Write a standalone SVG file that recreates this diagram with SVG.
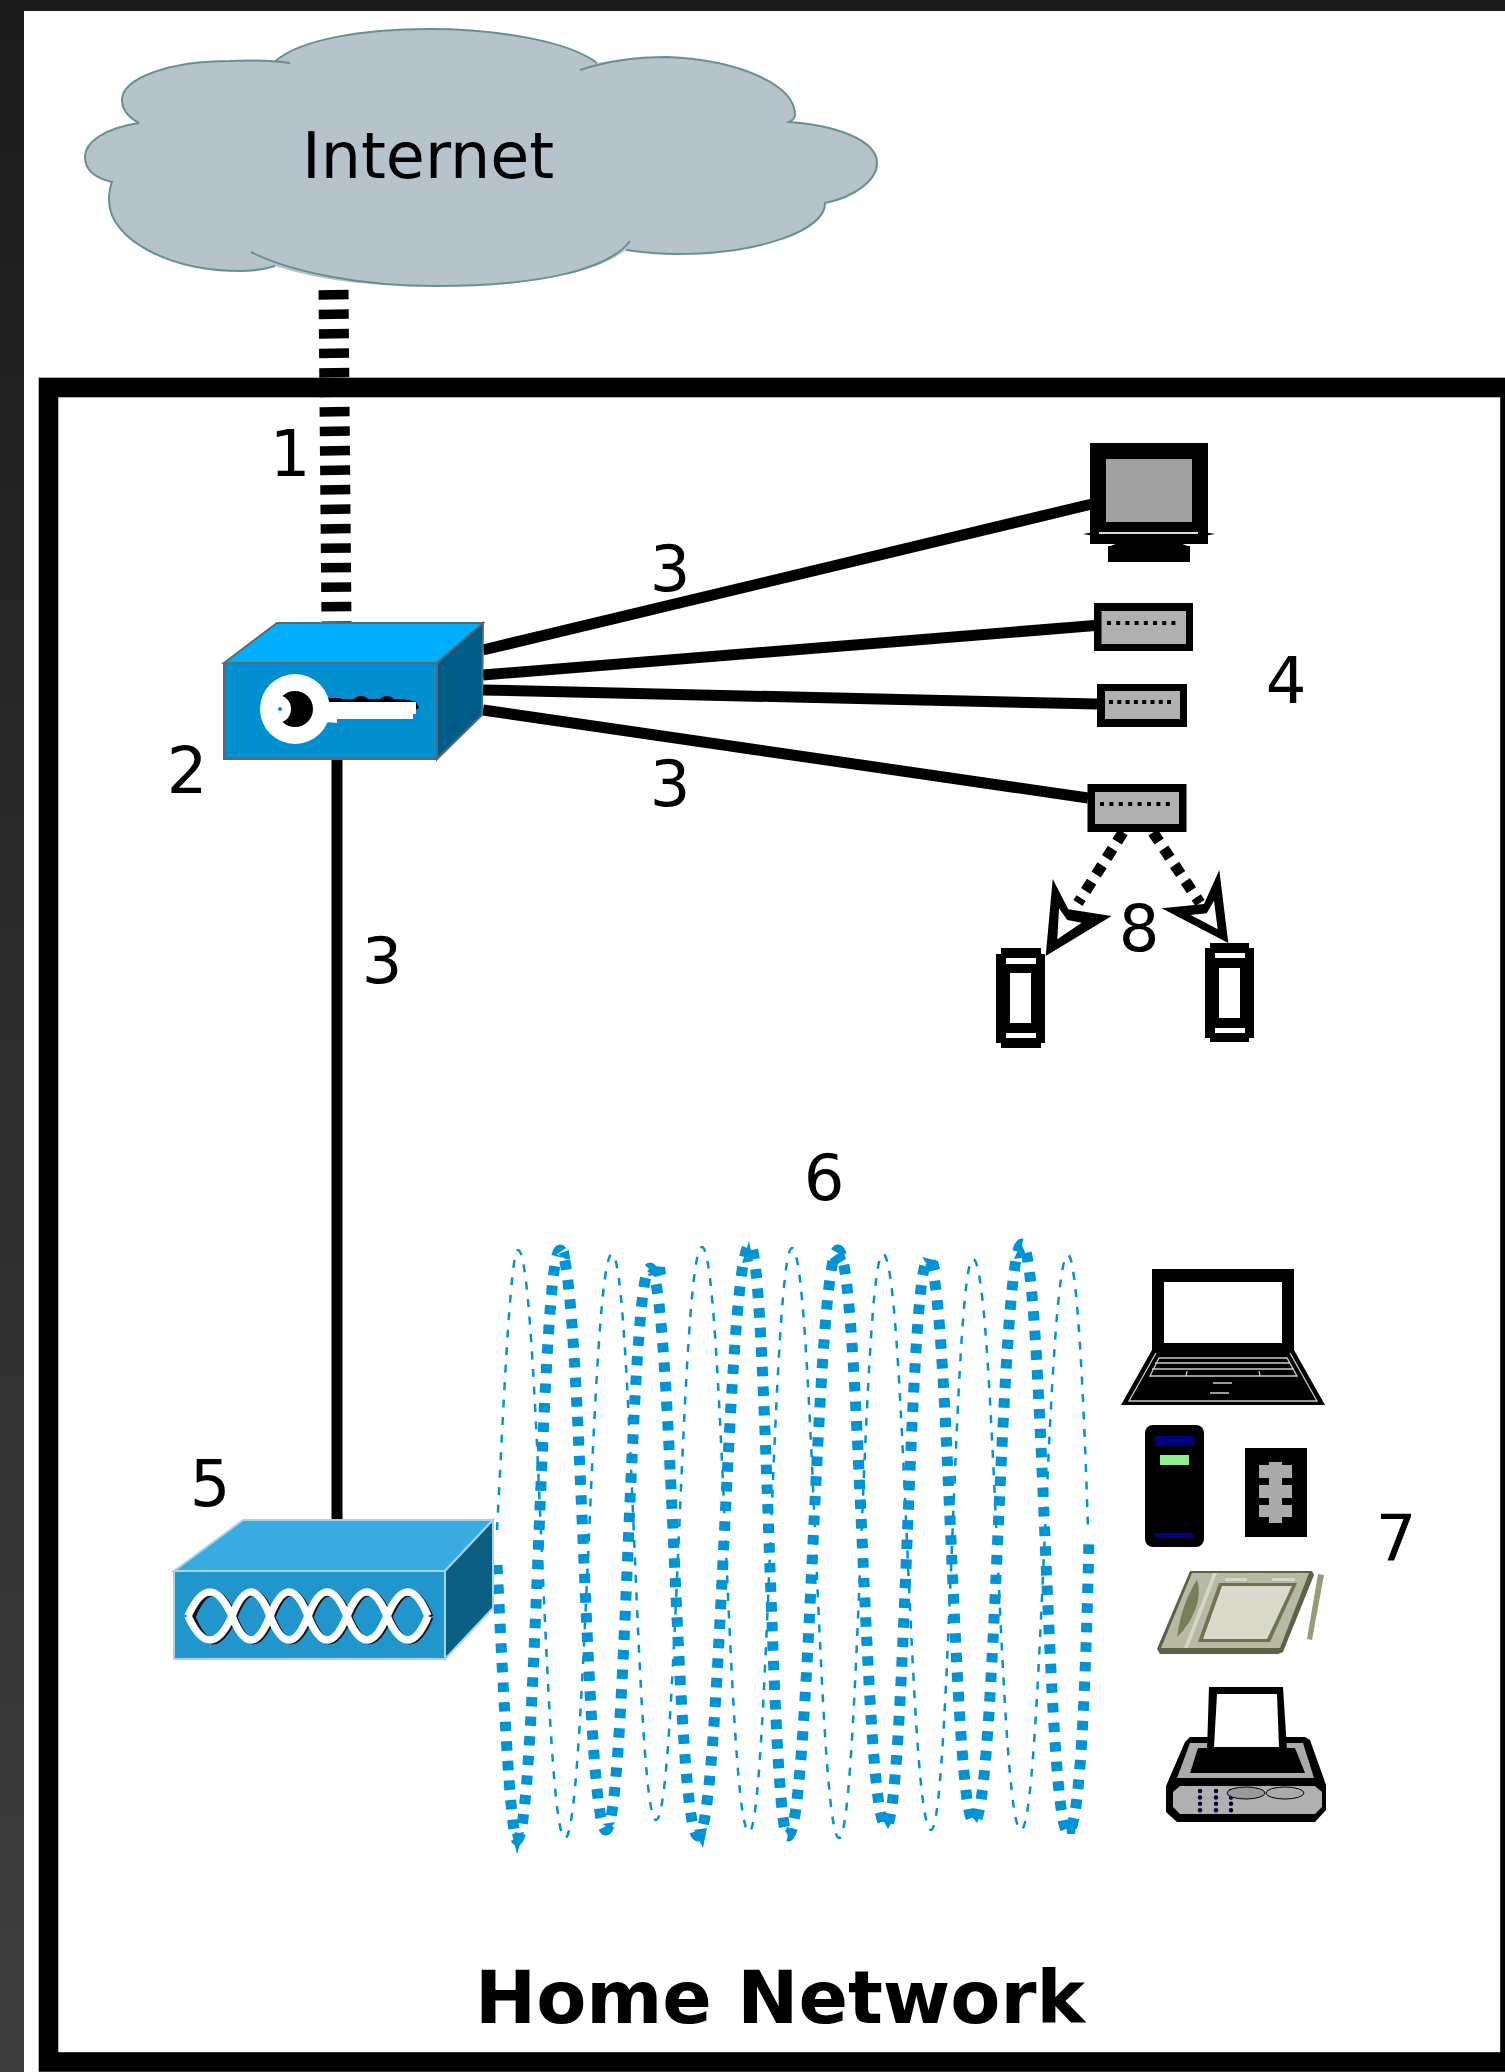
<svg xmlns="http://www.w3.org/2000/svg" width="1505" height="2072" viewBox="0 0 1505 2072">
<style>
text{font-family:"DejaVu Sans",sans-serif;fill:#000}
.n{font-size:64px;text-anchor:middle}
.solid{fill:none;stroke:#000;stroke-width:11}
.thick{fill:none;stroke:#0093d5;stroke-width:11;stroke-dasharray:9.500 10.100}
.thin{fill:none;stroke:#0093d5;stroke-width:2.500;stroke-dasharray:8 9.500}
.blue{fill:#0093d5}
.hw{fill:#b0b0b0}
.k{fill:#000}
.lt{fill:none;stroke:#ccc;stroke-width:1.300}
</style>
<defs>
<linearGradient id="bg" x1="0" y1="0" x2="0" y2="1"><stop offset="0" stop-color="#1b1b1b"/><stop offset="1" stop-color="#3e3e3e"/></linearGradient>
</defs>
<rect id="backdrop" width="1505" height="2072" fill="url(#bg)"/>
<rect x="0" y="0" width="1505" height="11" fill="#1b1b1b"/>
<rect id="page" x="24" y="11" width="1481" height="2061" fill="#fff"/>
<rect id="home-frame" x="48.500" y="387.500" width="1461.500" height="1674.500" fill="none" stroke="#000" stroke-width="19.600"/>
<g id="connectors">
<path d="M333.500 290L336.500 623" fill="none" stroke="#000" stroke-width="30" stroke-dasharray="9.500 10"/>
<path class="solid" d="M483 650L1092 504M483 675L1095 625.500M483 690L1097 704M483 710L1088 798M337 759V1520"/>
<path d="M1123 832.300L1078 903M1153 832.400L1200 903" fill="none" stroke="#000" stroke-width="11" stroke-dasharray="11 8.500"/>
<path fill-rule="evenodd" class="k" d="M1045.700 956L1052.700 879L1068.300 909.300L1111.700 916ZM1057.300 939.300L1059 908.300L1067.300 920L1081.700 922.700Z"/>
<path fill-rule="evenodd" class="k" d="M1228.300 943L1219.300 870L1204 904L1161.700 908.300ZM1217.700 929.300L1214 900.700L1206.700 913.300L1190.700 915Z"/>
<path class="thick" d="M497 1565C502 1660 510 1840 517 1840C536 1840 541 1250 560 1250C581 1250 585 1830 606 1830C626 1830 630 1268 650 1268C672 1268 676 1836 698 1836C721 1836 727 1245 750 1245C767 1245 771 1836 788 1836C810 1836 816 1250 838 1250C860 1250 864 1826 886 1826C905 1826 909 1260 928 1260C949 1260 953 1822 974 1822C996 1822 1000 1244 1022 1244C1043 1244 1047 1832 1068 1832C1080 1832 1086 1680 1089 1536"/>
<path class="thin" d="M497 1530C503 1420 510 1250 518 1250C539 1250 544 1838 565 1838C586 1838 591 1254 612 1254C632 1254 636 1820 656 1820C677 1820 681 1247 702 1247C723 1247 728 1832 749 1832C768 1832 773 1248 792 1248C813 1248 818 1838 839 1838C859 1838 863 1254 883 1254C905 1254 909 1830 931 1830C950 1830 954 1259 973 1259C995 1259 999 1830 1021 1830C1042 1830 1047 1255 1068 1255C1077 1255 1084 1400 1088 1530"/>
<path class="blue" d="M512 1834L524 1832L517 1854ZM742 1263L753 1261L749 1241ZM1014 1259L1027 1257L1021 1243ZM694 1830L707 1828L703 1848ZM558 1254L569 1250L570 1259L565 1259ZM647 1271L653 1266L665 1267L666 1274L655 1277ZM603 1824L615 1822L610 1830ZM785 1830L793 1828L790 1840ZM830 1259L843 1250L846 1259L833 1267ZM882 1818L893 1820L888 1829ZM922 1257L938 1261L940 1269L930 1269ZM970 1814L980 1816L977 1823ZM1066 1824L1076 1825L1075 1834L1067 1834Z"/>
</g>
<g id="cloud">
<path fill="#b6c3ca" d="M139 123C128 117 122 110 122 100C122 78 170 61 230 61C255 60 265 61 275.500 61C300 40 360 29 430 29C500 29 570 42 597 63C625 59 650 57 667 57C740 60 795 85 795 115C795 118 793 120 789 122C835 125 877 140 877 163C877 180 855 197 825 203C826 230 760 254 677 254C655 254 640 252 626 250C600 270 545 286 436 286C360 286 320 280 275 266C262 270 252 271 241 271C170 271 109 240 109 200C109 192 110 187 112 182C95 178 85 170 85 157C85 142 105 128 139 123Z"/>
<path fill="none" stroke="#6a8f92" stroke-width="2" d="M139 123C128 117 122 110 122 100C122 78 170 61 230 61C255 60 275 61 290 63M275.500 61C300 40 360 29 430 29C500 29 570 42 597 63M580 70C610 60 640 57 667 57C740 60 795 85 795 115C795 118 793 120 789 122C835 125 877 140 877 163C877 180 855 197 825 203C826 230 760 254 677 254C655 254 640 252 626 250M630 241C610 268 545 286 436 286C360 286 290 272 251 252M275 266C262 270 252 271 241 271C170 271 109 240 109 200C109 192 110 187 112 182C95 178 85 170 85 157C85 142 105 128 139 123"/>
<text x="302" y="178" font-size="63.500">Internet</text>
</g>
<g id="router">
<path fill="#00aeff" stroke="#5a6a74" stroke-width="2" d="M224 663L277 623H483L437 663Z"/>
<path fill="#005d87" stroke="#5a6a74" stroke-width="2" d="M483 623L482 715L437 759V663Z"/>
<rect x="224" y="663" width="213" height="96" fill="#0090d0" stroke="#5a6a74" stroke-width="2"/>
<path class="k" d="M328 702V698H338L342 699L354 699C358 695 364 695 368 699H380C384 695 390 695 394 699H402L408 700L416 702L419 708L413 711V702Z"/>
<circle cx="295" cy="709" r="35" fill="#fff"/>
<circle cx="295" cy="709" r="18" fill="#000"/>
<circle cx="277" cy="709" r="14" fill="#fff"/>
<circle cx="280" cy="709" r="2" fill="#0090d0"/>
<path fill="#fff" d="M328 702H416V714H413V719H337V723L326 722Z"/>
</g>
<g id="monitor">
<rect x="1090" y="443" width="118" height="101" fill="#000"/>
<rect x="1106" y="459" width="86" height="63" fill="#a0a0a0"/>
<path class="k" d="M1083 534L1100 531V537ZM1215 534L1198 531V537ZM1108 546H1190V562H1108ZM1118 543H1180L1190 547H1108Z"/>
<rect x="1099" y="532" width="99" height="2" fill="#ddd"/>
</g>
<g id="device-a">
<rect x="1094" y="603" width="99" height="48" class="k"/>
<rect x="1101.500" y="611" width="84.500" height="33" class="hw"/>
<path d="M1107 623H1176" stroke="#000" stroke-width="4" stroke-dasharray="4 5.200"/>
</g>
<g id="device-b">
<rect x="1097" y="684" width="90" height="43" class="k"/>
<rect x="1105" y="691" width="75" height="28" class="hw"/>
<path d="M1109 702H1171" stroke="#000" stroke-width="4" stroke-dasharray="4 4.300"/>
</g>
<g id="device-c">
<rect x="1087.500" y="784" width="99" height="48" class="k"/>
<rect x="1095" y="792" width="84" height="32" class="hw"/>
<path d="M1100 804H1170" stroke="#000" stroke-width="4" stroke-dasharray="4 5.400"/>
</g>
<g id="phone-left">
<path class="k" d="M1001 948H1041V954H1045V1043H1041V1048H1001V1043H996V954H1001Z"/>
<path fill="#fff" d="M1006 958H1036V964H1006ZM1010 973H1031V1023H1010ZM1006 1033H1036V1038H1006Z"/>
</g>
<g id="phone-right">
<path class="k" d="M1210 943H1249V948H1254V1038H1249V1042H1210V1038H1205V948H1210Z"/>
<path fill="#fff" d="M1215 953H1245V958H1215ZM1219 968H1240V1018H1219ZM1215 1028H1245V1033H1215Z"/>
</g>
<g id="bridge">
<path fill="#3aaae2" stroke="#a8d4e8" stroke-width="2" d="M174 1571L243 1520H493L445 1571Z"/>
<path fill="#0b5f85" stroke="#a8d4e8" stroke-width="2" d="M493 1520V1608L445 1659V1571Z"/>
<rect x="174" y="1571" width="271" height="88" fill="#2196cd" stroke="#a8d4e8" stroke-width="2"/>
<path fill="none" stroke="#111" stroke-width="7" transform="translate(2 1)" d="M190 1616Q210 1568 232 1616Q251 1664 270 1616Q289 1568 308 1616Q327 1664 347 1616Q367 1568 387 1616Q408 1664 428 1616M190 1616Q210 1664 232 1616Q251 1568 270 1616Q289 1664 308 1616Q327 1568 347 1616Q367 1664 387 1616Q408 1568 428 1616"/>
<path fill="none" stroke="#fff" stroke-width="7.500" d="M188 1616Q210 1568 232 1616Q251 1664 270 1616Q289 1568 308 1616Q327 1664 347 1616Q367 1568 387 1616Q408 1664 428 1616M188 1616Q210 1664 232 1616Q251 1568 270 1616Q289 1664 308 1616Q327 1568 347 1616Q367 1664 387 1616Q408 1568 428 1616"/>
</g>
<g id="laptop">
<path class="k" d="M1152 1269H1294V1350L1325 1405H1121L1152 1350Z"/>
<rect x="1164" y="1282" width="118" height="61" fill="#fff"/>
<path class="lt" d="M1156 1353L1129 1401H1317L1290 1353M1159 1358H1287L1297 1376H1150ZM1155 1363H1290M1152 1369H1294M1187 1371L1186 1376M1259 1371L1260 1376M1213 1383H1232M1210 1393H1229"/>
</g>
<g id="tower">
<rect x="1145" y="1425" width="59" height="122" rx="8" class="k"/>
<rect x="1155" y="1436" width="39" height="10" fill="#000080"/>
<rect x="1160" y="1455" width="29" height="10" fill="#90ee90"/>
<rect x="1155" y="1533" width="39" height="5" fill="#000080"/>
</g>
<g id="slot-card">
<rect x="1245" y="1448" width="62" height="89" class="k"/>
<path fill="#aaa" d="M1269 1462H1282V1465H1292V1478H1282V1485H1292V1498H1282V1505H1292V1517H1282V1523H1269V1517H1259V1505H1269V1498H1259V1485H1269V1478H1259V1465H1269Z"/>
</g>
<g id="tablet">
<path fill="#5c6148" d="M1190 1571H1312L1314 1575L1283 1652L1278 1654H1160L1157 1649Z"/>
<path fill="#b7b9a3" d="M1192 1573H1309L1280 1648H1161Z"/>
<path fill="#d5d6c6" d="M1213 1573H1217L1188 1648H1184ZM1225 1578H1247V1581H1225ZM1272 1578H1295V1581H1272Z"/>
<path fill="#70734f" d="M1219 1583H1297L1270 1642H1198Z"/>
<path fill="#d9dacb" d="M1222 1586H1292L1267 1639H1203Z"/>
<path fill="#7a7d5a" d="M1197 1580C1204 1600 1190 1625 1177 1637C1180 1615 1187 1595 1197 1580Z"/>
<path fill="#9a9c75" d="M1318 1574L1324 1575L1312 1640L1307 1639Z"/>
</g>
<g id="printer">
<path class="k" d="M1185 1742L1190 1737H1305L1310 1740L1326 1785V1810L1315 1822H1177L1166 1812V1786Z"/>
<path fill="#aaa" d="M1190 1743H1303L1314 1778H1177Z"/>
<path class="k" d="M1198 1748H1295L1305 1773H1190Z"/>
<path class="k" d="M1209 1687H1283L1287 1750H1207Z"/>
<path fill="#fff" d="M1217 1694H1277L1279 1747H1214Z"/>
<path fill="#b0b0b0" d="M1180 1786H1315L1322 1792V1807L1315 1814H1180L1173 1807V1792Z"/>
<path d="M1200 1791V1811M1216 1791V1811M1231 1791V1811" stroke="#000033" stroke-width="4.500" stroke-linecap="round" stroke-dasharray="0 6.400"/>
<ellipse cx="1246" cy="1793" rx="19" ry="6" fill="#999" stroke="#000"/>
<ellipse cx="1285" cy="1793" rx="19" ry="6" fill="#aaa" stroke="#000"/>
</g>
<g id="labels">
<text class="n" x="290" y="476">1</text>
<text class="n" x="187" y="793">2</text>
<text class="n" x="670" y="591">3</text>
<text class="n" x="670" y="806">3</text>
<text class="n" x="382" y="983">3</text>
<text class="n" x="1286" y="703">4</text>
<text class="n" x="210" y="1506">5</text>
<text class="n" x="824" y="1200">6</text>
<text class="n" x="1396" y="1561">7</text>
<text class="n" x="1139" y="951">8</text>
<text x="780" y="2023" font-size="73" font-weight="bold" text-anchor="middle">Home Network</text>
</g>
</svg>
